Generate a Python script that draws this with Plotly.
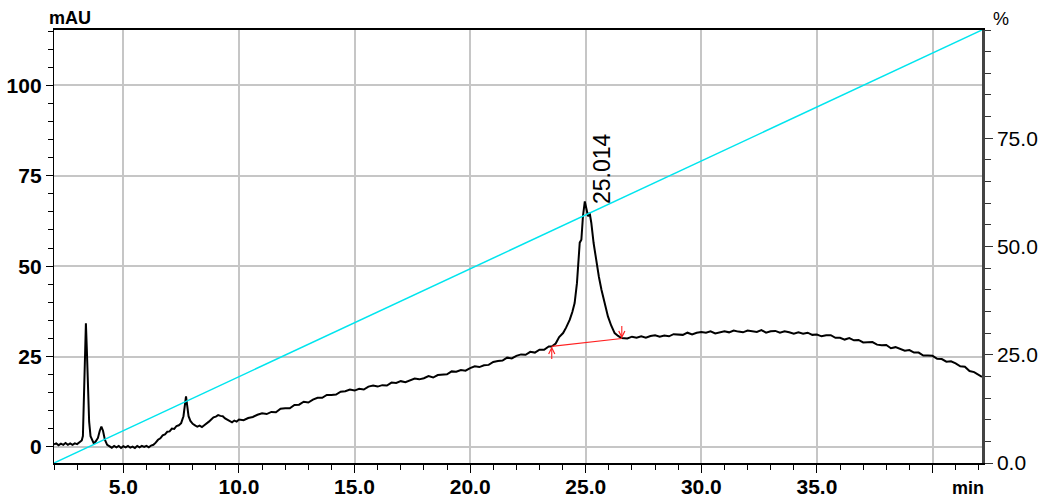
import plotly.graph_objects as go

# ---------------- data ----------------
rt_min = [
    2.0, 2.1, 2.2, 2.3, 2.4, 2.5, 2.6, 2.7, 2.8, 2.9, 3.0, 3.1, 3.2,
    3.25, 3.30, 3.34, 3.38, 3.42, 3.47, 3.52, 3.58, 3.65, 3.72, 3.80, 3.90, 3.98, 4.05, 4.12, 4.2, 4.3, 4.4,
    4.5, 4.6, 4.7, 4.8, 4.9, 5.0, 5.1, 5.2, 5.3, 5.4, 5.5, 5.6, 5.7, 5.8, 5.9, 6.0, 6.1, 6.2, 6.3,
    6.4, 6.5, 6.6, 6.7, 6.8, 6.9, 7.0, 7.1, 7.2, 7.3, 7.4, 7.5, 7.6, 7.65, 7.71, 7.76, 7.82, 7.9,
    8.0, 8.1, 8.2, 8.3, 8.4, 8.5, 8.6, 8.7, 8.8, 8.9, 9.0, 9.1, 9.2, 9.3, 9.4, 9.5, 9.6, 9.7, 9.8, 9.9,
    10.0, 10.2, 10.4, 10.6, 10.8,
    11.0, 11.2, 11.4, 11.6, 11.8, 12.0, 12.2, 12.4, 12.6, 12.8, 13.0, 13.2, 13.4, 13.6, 13.8,
    14.0, 14.2, 14.4, 14.6, 14.8, 15.0, 15.2, 15.4, 15.6, 15.8, 16.0, 16.2, 16.4, 16.6, 16.8,
    17.0, 17.2, 17.4, 17.6, 17.8, 18.0, 18.2, 18.4, 18.6, 18.8, 19.0, 19.2, 19.4, 19.6, 19.8,
    20.0, 20.2, 20.4, 20.6, 20.8, 21.0, 21.2, 21.4, 21.6, 21.8, 22.0, 22.2, 22.4, 22.6, 22.8,
    23.0, 23.2, 23.4,
    23.53, 23.7, 23.85, 24.02, 24.15, 24.31, 24.42, 24.52, 24.62, 24.71, 24.74, 24.81, 24.88, 24.96,
    25.03, 25.10, 25.17, 25.24, 25.34, 25.46, 25.57, 25.68, 25.82, 25.96, 26.1, 26.25, 26.4, 26.54,
    26.8, 27.0, 27.2, 27.4, 27.6, 27.8, 28.0, 28.2, 28.4, 28.6, 28.8, 29.0, 29.2, 29.4, 29.6, 29.8,
    30.0, 30.2, 30.4, 30.6, 30.8, 31.0, 31.2, 31.4, 31.6, 31.8, 32.0, 32.2, 32.4, 32.6, 32.8,
    33.0, 33.2, 33.4, 33.6, 33.8, 34.0, 34.2, 34.4, 34.6, 34.8, 35.0, 35.2, 35.4, 35.6, 35.8,
    36.0, 36.2, 36.4, 36.6, 36.8, 37.0, 37.2, 37.4, 37.6, 37.8, 38.0, 38.2, 38.4, 38.6, 38.8,
    39.0, 39.2, 39.4, 39.6, 39.8, 40.0, 40.2, 40.4, 40.6, 40.8, 41.0, 41.2, 41.4, 41.6, 41.8,
    42.0, 42.14,
]
signal_mau = [
    0.7, 1.0, 0.5, 0.9, 0.6, 1.1, 0.6, 1.0, 0.6, 1.0, 0.8, 1.2, 1.8,
    3.0, 14.0, 28.0, 34.2, 27.0, 15.0, 7.0, 3.0, 2.0, 1.0, 1.5, 2.5, 4.5, 5.6, 4.5, 2.0, 0.6, 0.2,
    -0.2, 0.3, -0.1, 0.3, -0.3, 0.2, -0.1, 0.3, -0.2, 0.1, -0.3, 0.3, -0.1, 0.3, 0.0, 0.3, -0.1, 0.4, 0.6,
    1.2, 2.0, 2.4, 3.2, 3.5, 4.2, 4.3, 5.1, 5.0, 5.8, 6.0, 6.6, 8.5, 11.0, 14.0, 11.5, 8.5, 7.2,
    6.4, 6.0, 5.6, 5.9, 5.5, 6.0, 6.4, 7.0, 7.6, 8.2, 8.4, 8.8, 8.6, 8.5, 7.9, 7.5, 7.2, 6.8, 7.3, 7.0,
    7.6, 7.4, 8.0, 8.3, 8.9,
    9.3, 9.1, 9.7, 9.6, 10.6, 10.7, 10.7, 11.6, 11.7, 12.5, 12.3, 13.1, 13.6, 13.6, 14.4,
    14.4, 14.5, 15.3, 15.4, 15.9, 15.6, 16.1, 15.9, 16.7, 17.0, 16.7, 17.1, 17.0, 17.8, 17.7,
    18.2, 17.9, 18.5, 18.9, 18.7, 19.0, 19.6, 19.2, 19.9, 20.0, 20.1, 20.9, 20.8, 21.3, 21.1,
    21.8, 22.3, 22.1, 22.6, 22.7, 23.5, 23.8, 23.9, 24.7, 24.5, 25.2, 25.6, 25.5, 26.3, 26.1,
    26.9, 26.9, 27.8,
    27.8, 28.6, 30.4, 31.5, 33.0, 35.2, 37.3, 39.8, 45.3, 54.6, 56.5, 57.3, 63.8, 67.9,
    65.6, 63.8, 64.7, 62.0, 56.4, 50.9, 47.0, 43.5, 39.5, 36.1, 33.6, 31.5, 30.7, 30.1,
    30.0, 30.5, 30.2, 30.6, 30.2, 30.7, 30.9, 30.5, 30.8, 30.6, 31.2, 31.2, 31.0, 31.6, 31.1, 31.6,
    31.8, 31.6, 32.0, 31.4, 31.8, 32.0, 31.7, 32.2, 31.9, 31.7, 32.2, 32.1, 31.8, 32.3, 31.6,
    32.0, 32.1, 31.6, 32.0, 31.7, 31.3, 31.7, 31.3, 31.6, 31.0, 31.1, 30.6, 30.9, 30.9, 30.2,
    30.2, 29.7, 30.1, 29.5, 29.6, 28.9, 29.0, 29.0, 28.3, 28.1, 28.2, 27.3, 27.6, 27.1, 26.6,
    26.8, 26.1, 26.1, 25.3, 25.3, 25.2, 24.4, 24.3, 23.6, 23.7, 23.1, 22.3, 22.2, 21.0, 20.7,
    20.0, 19.4,
]

gradient_min = [2.0, 42.14]
gradient_pct = [0.0, 100.0]

baseline_min = [23.53, 26.56]
baseline_mau = [27.8, 30.0]

peak_rt = 25.014
peak_height = 67.9
peak_label = "25.014"

x_ticks = [5, 10, 15, 20, 25, 30, 35, 40]
x_ticktext = ["5.0", "10.0", "15.0", "20.0", "25.0", "30.0", "35.0", ""]
y_ticks = [0, 25, 50, 75, 100]
y_ticktext = ["0", "25", "50", "75", "100"]
y2_ticks = [0, 25, 50, 75]
y2_ticktext = ["0.0", "25.0", "50.0", "75.0"]

FONT = "Liberation Sans, Arial, sans-serif"
GRID = "#c6c6c6"

fig = go.Figure()

fig.add_trace(go.Scatter(
    x=gradient_min, y=gradient_pct, yaxis="y2", mode="lines",
    line=dict(color="#00e5ee", width=1.5), hoverinfo="skip", showlegend=False))

fig.add_trace(go.Scatter(
    x=rt_min, y=signal_mau, mode="lines",
    line=dict(color="black", width=2.0), showlegend=False))

fig.add_trace(go.Scatter(
    x=baseline_min, y=baseline_mau, mode="lines",
    line=dict(color="#ff2020", width=1.2), showlegend=False))

# baseline start / end arrows
fig.add_annotation(x=baseline_min[0], y=baseline_mau[0], text="", showarrow=True,
                   ax=0, ay=14, arrowhead=5, arrowsize=1.1, arrowwidth=1.1, arrowcolor="#ff2020")
fig.add_annotation(x=baseline_min[1], y=baseline_mau[1], text="", showarrow=True,
                   ax=0, ay=-14, arrowhead=5, arrowsize=1.1, arrowwidth=1.1, arrowcolor="#ff2020")

# peak label
fig.add_annotation(x=peak_rt, y=peak_height, text=peak_label, textangle=-90,
                   showarrow=False, xanchor="left", yanchor="bottom", xshift=1, yshift=-5,
                   font=dict(family=FONT, size=23, color="black"))

# axis titles as text
fig.add_annotation(xref="paper", yref="paper", x=0.017, y=1.028, text="mAU",
                   showarrow=False, xanchor="center", yanchor="middle",
                   font=dict(family=FONT, size=18, color="black", weight="bold"))
fig.add_annotation(xref="paper", yref="paper", x=1.0205, y=1.026, text="%",
                   showarrow=False, xanchor="center", yanchor="middle",
                   font=dict(family=FONT, size=18, color="black"))
fig.add_annotation(xref="paper", yref="paper", x=0.985, y=-0.058, text="min",
                   showarrow=False, xanchor="center", yanchor="middle",
                   font=dict(family=FONT, size=18, color="black", weight="bold"))

fig.update_layout(
    width=1038, height=499, autosize=False,
    margin=dict(l=54, r=56, t=30, b=36, pad=0, autoexpand=False),
    paper_bgcolor="white", plot_bgcolor="white",
    showlegend=False,
    xaxis=dict(
        range=[2.0, 42.14], tickvals=x_ticks, ticktext=x_ticktext,
        showgrid=True, gridcolor=GRID, gridwidth=1.5,
        showline=True, linecolor="black", linewidth=1.5, mirror=True,
        ticks="outside", ticklen=8, tickwidth=1.3, tickcolor="black",
        ticklabelstandoff=-4,
        tickfont=dict(family=FONT, size=21, color="black", weight="bold"),
        minor=dict(dtick=1, tick0=0, ticks="outside", ticklen=5, tickwidth=1, tickcolor="black", showgrid=False),
        zeroline=False, fixedrange=True, automargin=False,
    ),
    yaxis=dict(
        range=[-4.43, 115.3], tickvals=y_ticks, ticktext=y_ticktext,
        showgrid=True, gridcolor=GRID, gridwidth=1.5,
        showline=True, linecolor="black", linewidth=1.3,
        ticks="outside", ticklen=7, tickwidth=1.3, tickcolor="black",
        tickfont=dict(family=FONT, size=21, color="black", weight="bold"),
        minor=dict(dtick=5, tick0=0, ticks="outside", ticklen=5, tickwidth=1, tickcolor="black", showgrid=False),
        zeroline=False, fixedrange=True, automargin=False,
    ),
    yaxis2=dict(
        overlaying="y", side="right", anchor="x",
        range=[0, 100], tickvals=y2_ticks, ticktext=y2_ticktext,
        showgrid=False, zeroline=False,
        showline=True, linecolor="#444444", linewidth=2.5,
        ticks="outside", ticklen=8, tickwidth=1.3, tickcolor="#333333",
        tickfont=dict(family=FONT, size=21, color="black"),
        minor=dict(dtick=5, tick0=0, ticks="outside", ticklen=6, tickwidth=1, tickcolor="#333333", showgrid=False),
        fixedrange=True, automargin=False,
    ),
)

fig.write_html(
    "out.html",
    config={"displayModeBar": False},
    post_script="document.body.style.margin='0';document.body.style.overflow='hidden';",
)
